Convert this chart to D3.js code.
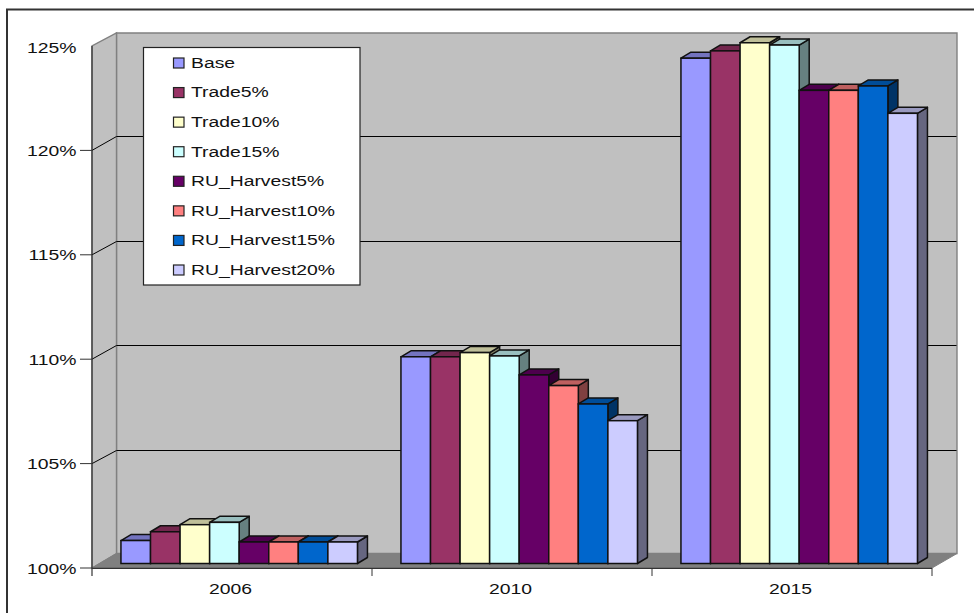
<!DOCTYPE html>
<html>
<head>
<meta charset="utf-8">
<style>html,body{margin:0;padding:0;background:#fff;overflow:hidden}svg{display:block}</style>
<script src="https://cdn.jsdelivr.net/npm/d3@7"></script>
</head>
<body>
<svg id="c" width="974" height="613"></svg>
<script>
const years = ["2006", "2010", "2015"];
const seriesNames = ["Base", "Trade5%", "Trade10%", "Trade15%", "RU_Harvest5%", "RU_Harvest10%", "RU_Harvest15%", "RU_Harvest20%"];
const colors = ["#9999FF", "#993366", "#FFFFCC", "#CCFFFF", "#660066", "#FF8080", "#0066CC", "#CCCCFF"];
const base = [101.1, 109.9, 124.2];
const trade5 = [101.52, 109.9, 124.55];
const trade10 = [101.86, 110.1, 124.94];
const trade15 = [101.97, 109.94, 124.83];
const ruHarvest5 = [101.03, 109.03, 122.66];
const ruHarvest10 = [101.03, 108.52, 122.66];
const ruHarvest15 = [101.03, 107.64, 122.87];
const ruHarvest20 = [101.03, 106.84, 121.56];
const seriesValues = [base, trade5, trade10, trade15, ruHarvest5, ruHarvest10, ruHarvest15, ruHarvest20];
const yTicks = [100, 105, 110, 115, 120, 125];

const svg = d3.select("#c");
const FONT = "'Liberation Sans', Arial, sans-serif";
const left = 92, right = 932, floorY = 568, topY = 46;
const wallDx = 24.5, wallDy = 14.5;           // depth of the whole chart box
const barDx = 10, barDy = 6;                  // depth of one bar
const barShiftX = 7.2, barShiftY = 4.5;       // bars stand inside the floor

const y = d3.scaleLinear().domain([100, 125]).range([floorY, topY]);
const x0 = d3.scaleBand().domain(years).range([left, right]);
const x1 = d3.scaleBand().domain(seriesNames).range([0, 236.5]);
const pts = a => a.map(p => p.join(",")).join(" ");

// outer frame
svg.append("path").attr("d", "M7,613V9.5H974").attr("fill", "none").attr("stroke", "#333").attr("stroke-width", 2);

// walls and floor
const wall = svg.append("g");
wall.append("polygon").attr("points", pts([[left + wallDx, floorY - wallDy], [left + wallDx, topY - wallDy + 1.5], [right + wallDx + .5, topY - wallDy + 1.5], [right + wallDx + .5, floorY - wallDy]]))
  .attr("fill", "#C0C0C0").attr("stroke", "#808080").attr("stroke-width", 1.4);
wall.append("polygon").attr("points", pts([[left, floorY], [left, topY], [left + wallDx, topY - wallDy + 1.5], [left + wallDx, floorY - wallDy]]))
  .attr("fill", "#C0C0C0").attr("stroke", "#808080").attr("stroke-width", 1.4);
wall.append("polygon").attr("points", pts([[left, floorY], [right, floorY], [right + wallDx + .5, floorY - wallDy], [left + wallDx, floorY - wallDy]]))
  .attr("fill", "#808080").attr("stroke", "#808080").attr("stroke-width", 1);

// gridlines on both walls
const grid = yTicks.filter(t => t > 100 && t < 125);
const backY = d => Math.round(y(d) - wallDy + .6) + .5;
wall.selectAll("line.back").data(grid).join("line").attr("class", "back")
  .attr("x1", left + wallDx).attr("x2", right + wallDx)
  .attr("y1", backY).attr("y2", backY)
  .attr("stroke", "#000").attr("stroke-width", 1);
wall.selectAll("line.side").data(grid).join("line").attr("class", "side")
  .attr("x1", left).attr("x2", left + wallDx)
  .attr("y1", d => y(d)).attr("y2", backY)
  .attr("stroke", "#000").attr("stroke-width", 1);

// axes
const axisColor = "#333";
svg.append("line").attr("x1", left).attr("x2", left).attr("y1", topY).attr("y2", 576).attr("stroke", axisColor).attr("stroke-width", 1.2);
svg.append("line").attr("x1", left).attr("x2", right).attr("y1", floorY + .3).attr("y2", floorY + .3).attr("stroke", axisColor).attr("stroke-width", 1.2);

svg.selectAll("line.ytick").data(yTicks.filter(t => t < 125)).join("line").attr("class", "ytick")
  .attr("x1", 80).attr("x2", left).attr("y1", d => y(d)).attr("y2", d => y(d)).attr("stroke", axisColor);
svg.selectAll("line.xtick").data(years).join("line").attr("class", "xtick")
  .attr("x1", d => x0(d) + x0.step()).attr("x2", d => x0(d) + x0.step())
  .attr("y1", floorY).attr("y2", 576).attr("stroke", axisColor);

const stretch = 1.29;
function label(sel, px, py, anchor) {
  return sel.attr("transform", (d, i) => `translate(${px(d, i)},${py(d, i)}) scale(${stretch},1)`)
    .attr("text-anchor", anchor).attr("font-family", FONT).attr("font-size", 15).attr("fill", "#111");
}
label(svg.selectAll("text.yl").data(yTicks).join("text").attr("class", "yl").text(d => d + "%"),
  () => 76.5, d => y(d) + (d === 125 ? 7 : 5.5), "end");
label(svg.selectAll("text.xl").data(years).join("text").attr("class", "xl").text(d => d),
  d => x0(d) + x0.bandwidth() / 2 - 1.5, () => 593.5, "middle");

// bars, painted left to right
const c = (hex, k) => { const r = d3.rgb(hex); return d3.rgb(r.r * k, r.g * k, r.b * k).formatHex(); };
const barsBase = floorY - barShiftY;
years.forEach((yr, yi) => {
  const g = svg.append("g");
  seriesNames.forEach((name, si) => {
    const xa = x0(yr) + (x0.step() - 236.5) / 2 + barShiftX + x1(name);
    const xb = xa + x1.bandwidth();
    const yt = y(seriesValues[si][yi]) - barShiftY;
    g.append("polygon").attr("points", pts([[xb, yt], [xb + barDx, yt - barDy], [xb + barDx, barsBase - barDy], [xb, barsBase]]))
      .attr("fill", c(colors[si], .5)).attr("stroke", "#111").attr("stroke-width", 1.5).attr("stroke-linejoin", "round");
    g.append("polygon").attr("points", pts([[xa, yt], [xa + barDx, yt - barDy], [xb + barDx, yt - barDy], [xb, yt]]))
      .attr("fill", c(colors[si], .75)).attr("stroke", "#111").attr("stroke-width", 1.5).attr("stroke-linejoin", "round");
    g.append("rect").attr("x", xa).attr("y", yt).attr("width", xb - xa).attr("height", barsBase - yt)
      .attr("fill", colors[si]).attr("stroke", "#111").attr("stroke-width", 1.5);
  });
});

// legend
const legendY = d3.scalePoint().domain(seriesNames).range([63, 270]);
const lg = svg.append("g");
lg.append("rect").attr("x", 143.5).attr("y", 47.5).attr("width", 216.5).attr("height", 237.5)
  .attr("fill", "#fff").attr("stroke", "#222").attr("stroke-width", 1.2);
lg.selectAll("rect.sw").data(seriesNames).join("rect").attr("class", "sw")
  .attr("x", 173.5).attr("y", d => legendY(d) - 5).attr("width", 10.5).attr("height", 10)
  .attr("fill", (d, i) => colors[i]).attr("stroke", "#222").attr("stroke-width", 1.2);
label(lg.selectAll("text.lt").data(seriesNames).join("text").attr("class", "lt").text(d => d),
  () => 191, d => legendY(d) + 4.8, "start");
</script>
</body>
</html>
